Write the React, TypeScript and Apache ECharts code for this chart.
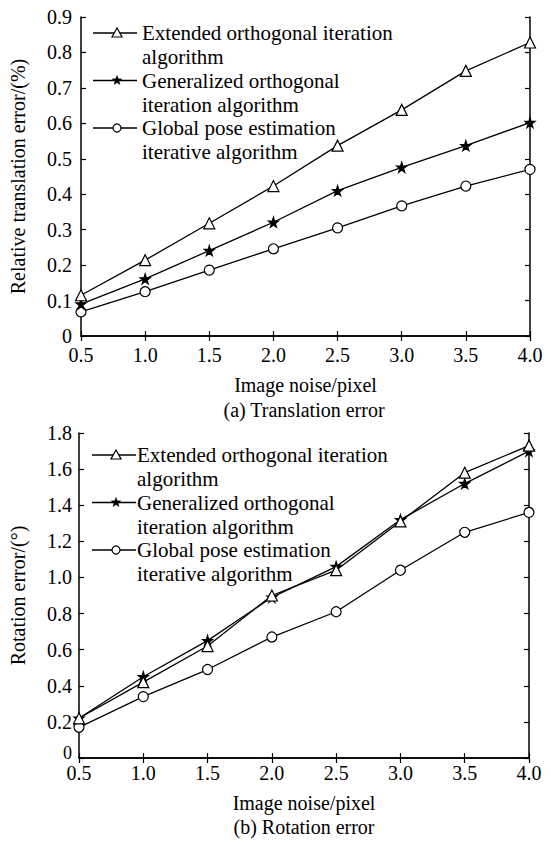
import React, { useEffect, useRef } from "react";
import * as echarts from "echarts";

const noise = [0.5, 1.0, 1.5, 2.0, 2.5, 3.0, 3.5, 4.0];
const seriesNames = [
  "Extended orthogonal iteration\nalgorithm",
  "Generalized orthogonal\niteration algorithm",
  "Global pose estimation\niterative algorithm",
];
const transExtended = [0.115, 0.214, 0.318, 0.423, 0.537, 0.638, 0.748, 0.828];
const transGeneralized = [0.09, 0.161, 0.241, 0.321, 0.41, 0.476, 0.537, 0.602];
const transGlobal = [0.068, 0.125, 0.186, 0.246, 0.305, 0.367, 0.423, 0.47];
const rotExtended = [0.22, 0.42, 0.62, 0.9, 1.04, 1.31, 1.58, 1.73];
const rotGeneralized = [0.22, 0.45, 0.65, 0.89, 1.06, 1.32, 1.52, 1.7];
const rotGlobal = [0.17, 0.34, 0.49, 0.67, 0.81, 1.04, 1.25, 1.36];
const captions = ["(a) Translation error", "(b) Rotation error"];
const xName = "Image noise/pixel";
const yNames = ["Relative translation error/(%)", "Rotation error/(°)"];

const FONT = "'Liberation Serif', 'Times New Roman', serif";
const STAR = "path://M50,0 L61,35 L98,35 L68,57 L79,91 L50,70 L21,91 L32,57 L2,35 L39,35 Z";
const symbols = ["triangle", STAR, "circle"];
const symbolSizes = [11, 10, 10];

function starPoints(cx: number, cy: number, R: number) {
  const pts: number[][] = [];
  const r = R * 0.42;
  for (let i = 0; i < 10; i++) {
    const a = -Math.PI / 2 + (i * Math.PI) / 5;
    const rr = i % 2 === 0 ? R : r;
    pts.push([cx + rr * Math.cos(a), cy + rr * Math.sin(a)]);
  }
  return pts;
}

function legendGraphic(x0: number, y0: number, textDx: number) {
  const els: any[] = [];
  seriesNames.forEach((name, i) => {
    const y = y0 + i * 47.5;
    els.push({
      type: "line",
      shape: { x1: x0, y1: y, x2: x0 + 44, y2: y },
      style: { stroke: "#000", lineWidth: 1.3 },
    });
    const cx = x0 + 24;
    if (i === 0) {
      els.push({
        type: "polygon",
        shape: { points: [[cx, y - 5], [cx - 5, y + 4], [cx + 5, y + 4]] },
        style: { fill: "#fff", stroke: "#000", lineWidth: 1.2 },
      });
    } else if (i === 1) {
      els.push({
        type: "polygon",
        shape: { points: starPoints(cx, y, 5) },
        style: { fill: "#000", stroke: "#000", lineWidth: 0.5 },
      });
    } else {
      els.push({
        type: "circle",
        shape: { cx, cy: y, r: 4 },
        style: { fill: "#fff", stroke: "#000", lineWidth: 1.2 },
      });
    }
    els.push({
      type: "text",
      x: x0 + textDx,
      y: y - 12,
      style: {
        text: name,
        font: `21px ${FONT}`,
        fill: "#000",
        lineHeight: 24,
        verticalAlign: "top",
      },
    });
  });
  return els;
}

export default function App() {
  const ref = useRef<HTMLDivElement>(null);
  useEffect(() => {
    if (!ref.current) return;
    const chart = echarts.init(ref.current, null, { renderer: "svg" });
    const grids = [
      { left: 79, top: 17, width: 451, height: 319 },
      { left: 77, top: 433, width: 452, height: 325 },
    ];
    const axisLine = { show: true, lineStyle: { color: "#000", width: 1.5 } };
    const axisTick = { show: true, inside: true, length: 5, lineStyle: { color: "#000", width: 1.2 } };
    const xAxis: any[] = [];
    const yAxis: any[] = [];
    const yMax = [0.9, 1.8];
    const yInt = [0.1, 0.2];
    const yGap = [53, 51];
    const xLabelMargin = [9, 5];
    const xNameGap = [39, 35];
    const yLabelMargin = [9, 7];
    const zeroPad = [[0, 0, 0, 0], [0, 0, 10, 0]];
    grids.forEach((_, g) => {
      xAxis.push({
        gridIndex: g,
        type: "value",
        min: 0.5,
        max: 4.0,
        interval: 0.5,
        position: "bottom",
        axisLine,
        axisTick,
        splitLine: { show: false },
        axisLabel: {
          color: "#000",
          fontFamily: FONT,
          fontSize: 20,
          margin: xLabelMargin[g],
          formatter: (v: number) => v.toFixed(1),
        },
        name: xName,
        nameLocation: "middle",
        nameGap: xNameGap[g],
        nameTextStyle: { color: "#000", fontFamily: FONT, fontSize: 20 },
      });
      xAxis.push({
        gridIndex: g,
        type: "value",
        min: 0.5,
        max: 4.0,
        interval: 0.5,
        position: "top",
        axisLine,
        axisTick,
        splitLine: { show: false },
        axisLabel: { show: false },
      });
      yAxis.push({
        gridIndex: g,
        type: "value",
        min: 0,
        max: yMax[g],
        interval: yInt[g],
        position: "left",
        axisLine,
        axisTick,
        splitLine: { show: false },
        axisLabel: {
          color: "#000",
          fontFamily: FONT,
          fontSize: 20,
          margin: yLabelMargin[g],
          formatter: (v: number) => (v === 0 ? "{z|0}" : v.toFixed(1)),
          rich: {
            z: {
              color: "#000",
              fontFamily: FONT,
              fontSize: g === 0 ? 20 : 18,
              padding: zeroPad[g],
            },
          },
        },
        name: yNames[g],
        nameLocation: "middle",
        nameGap: yGap[g],
        nameTextStyle: { color: "#000", fontFamily: FONT, fontSize: 20 },
      });
      yAxis.push({
        gridIndex: g,
        type: "value",
        min: 0,
        max: yMax[g],
        interval: yInt[g],
        position: "right",
        axisLine,
        axisTick,
        splitLine: { show: false },
        axisLabel: { show: false },
      });
    });
    const data = [
      [transExtended, transGeneralized, transGlobal],
      [rotExtended, rotGeneralized, rotGlobal],
    ];
    const series: any[] = [];
    data.forEach((group, g) => {
      group.forEach((vals, i) => {
        series.push({
          type: "line",
          name: seriesNames[i],
          xAxisIndex: g * 2,
          yAxisIndex: g * 2,
          data: vals.map((v, k) => [noise[k], v]),
          symbol: symbols[i],
          symbolSize: symbolSizes[i],
          showAllSymbol: true,
          lineStyle: { color: "#000", width: 1.3 },
          itemStyle: {
            color: i === 1 ? "#000" : "#fff",
            borderColor: "#000",
            borderWidth: 1.2,
          },
          emphasis: { disabled: true },
          z: 3 - i,
        });
      });
    });
    const titleStyle = { color: "#000", fontFamily: FONT, fontSize: 20, fontWeight: "normal" };
    chart.setOption({
      animation: false,
      backgroundColor: "#fff",
      grid: grids,
      xAxis,
      yAxis,
      series,
      title: [
        { text: captions[0], left: 304, top: 400, padding: 0, textAlign: "center", textStyle: titleStyle },
        { text: captions[1], left: 304, top: 817, padding: 0, textAlign: "center", textStyle: titleStyle },
      ],
      graphic: [...legendGraphic(93, 33, 49), ...legendGraphic(92, 455, 45)],
    });
    return () => chart.dispose();
  }, []);
  return (
    <div
      ref={ref}
      style={{ position: "absolute", left: 0, top: 0, width: 551, height: 845 }}
    />
  );
}
